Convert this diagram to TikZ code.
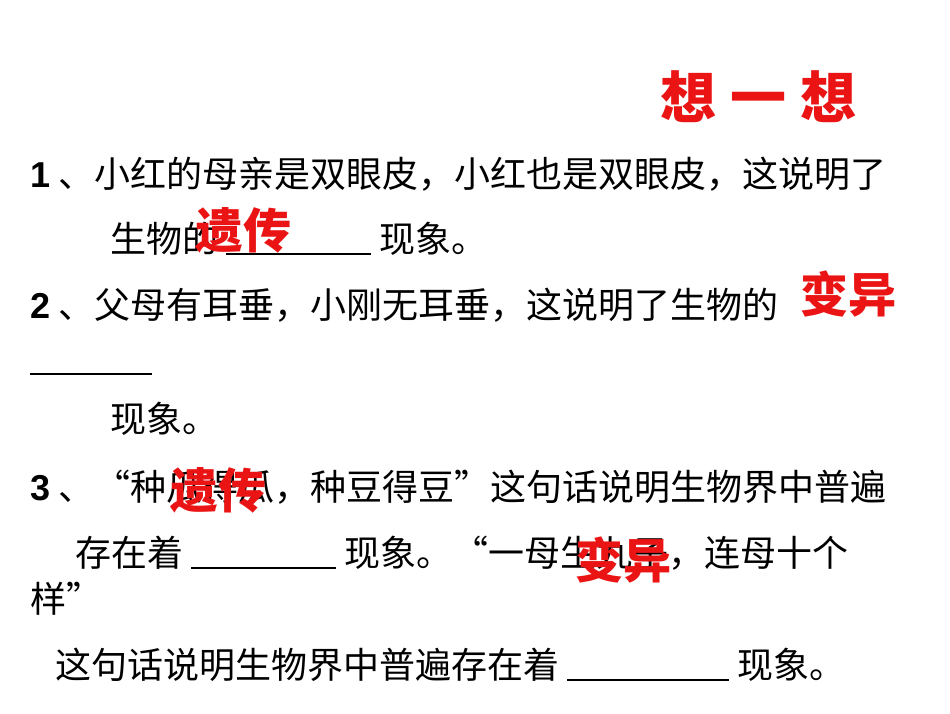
\documentclass[tikz,border=0pt]{standalone}
\usepackage{fontspec}
\setmainfont{Noto Sans CJK SC}
\newfontfamily\latin{Liberation Sans}
\definecolor{hred}{RGB}{235,20,20}
\newcommand{\blank}[1]{\rule[-3pt]{#1}{2.2pt}}
\tikzset{txt/.style={anchor=base west,inner sep=0pt,font=\fontsize{36}{36}\selectfont},
ans/.style={anchor=base west,inner sep=0pt,text=hred,font=\fontsize{48}{48}\selectfont\bfseries}}
\begin{document}
\begin{tikzpicture}[x=1pt,y=-1pt]
\useasboundingbox[fill=white] (0,0) rectangle (950,713);
\node[anchor=base west,inner sep=0pt,text=hred,font=\fontsize{56}{56}\selectfont\bfseries] (title) at (660,118) {想\hspace{14pt}一\hspace{14pt}想};
\node[txt] (l1) at (30,187) {{\latin\bfseries 1} 、小红的母亲是双眼皮，小红也是双眼皮，这说明了};
\node[txt] (l2) at (110,252) {生物的 \blank{145pt} 现象。};
\node[txt] (l3) at (30,318) {{\latin\bfseries 2} 、父母有耳垂，小刚无耳垂，这说明了生物的};
\node[txt] (l4) at (30,372) {\blank{122pt}};
\node[txt] (l5) at (110,432) {现象。};
\node[txt] (l6) at (30,500) {{\latin\bfseries 3} 、“种瓜得瓜，种豆得豆”这句话说明生物界中普遍};
\node[txt] (l7) at (75,566) {存在着 \blank{145pt} 现象。“一母生九子，连母十个};
\node[txt] (l8) at (30,612) {样”};
\node[txt] (l9) at (55,678) {这句话说明生物界中普遍存在着 \blank{162pt} 现象。};
\node[ans] (a1) at (195,248) {遗传};
\node[ans] (a2) at (800,312) {变异};
\node[ans] (a3) at (170,508) {遗传};
\node[ans] (a4) at (575,578) {变异};
\end{tikzpicture}
\end{document}
